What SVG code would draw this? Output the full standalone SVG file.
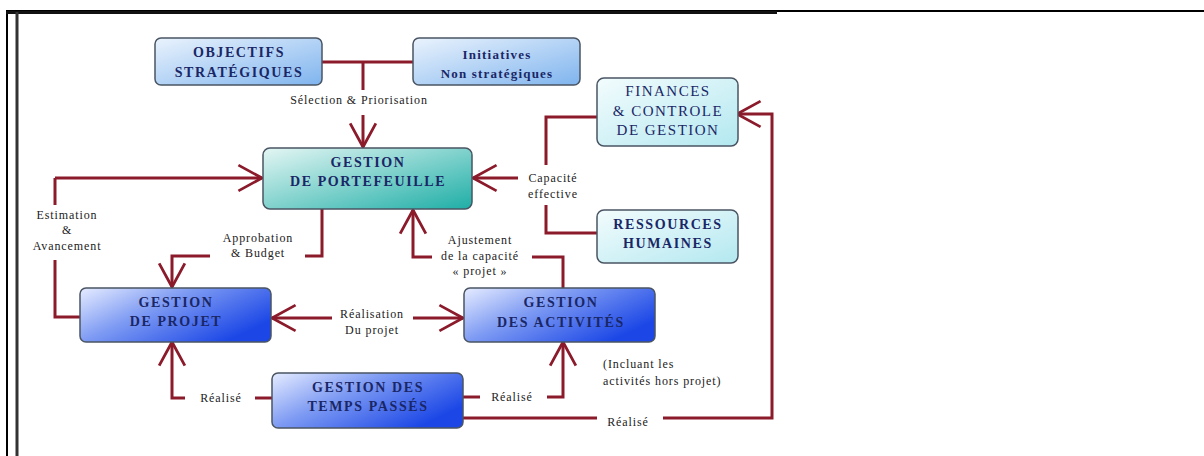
<svg xmlns="http://www.w3.org/2000/svg" width="1204" height="456" viewBox="0 0 1204 456">
<style>
.n{stroke:#4a5563;stroke-width:1.5}
.t{font-family:"Liberation Serif",serif;font-weight:bold;font-size:14px;fill:#1a2766;text-anchor:middle;letter-spacing:1.6px}
.tr{font-family:"Liberation Serif",serif;font-size:15px;fill:#1a2766;text-anchor:middle;letter-spacing:1.5px}
.l{font-family:"Liberation Serif",serif;font-size:12px;fill:#222;text-anchor:middle;letter-spacing:0.9px}
.c{fill:none;stroke:#8b1a2b;stroke-width:3}
.a{fill:none;stroke:#8b1a2b;stroke-width:3;marker-end:url(#arr)}
</style>
<defs>
<linearGradient id="gBlueL" x1="0" y1="0" x2="1" y2="1"><stop offset="0" stop-color="#eaf3fd"/><stop offset="1" stop-color="#7fb4ee"/></linearGradient>
<linearGradient id="gTeal" x1="0" y1="0" x2="1" y2="1"><stop offset="0" stop-color="#e4f6f4"/><stop offset="1" stop-color="#1eaea6"/></linearGradient>
<linearGradient id="gCyan" x1="0" y1="0" x2="1" y2="1"><stop offset="0" stop-color="#f3fcfd"/><stop offset="1" stop-color="#b3e8f0"/></linearGradient>
<linearGradient id="gBlue" x1="0" y1="0" x2="1" y2="0.6"><stop offset="0" stop-color="#e6ecff"/><stop offset="0.45" stop-color="#7d9af3"/><stop offset="1" stop-color="#1c47e6"/></linearGradient>
<marker id="arr" markerUnits="userSpaceOnUse" markerWidth="30" markerHeight="30" viewBox="-24 -14 26 28" refX="0" refY="0" orient="auto"><path d="M-22,-12 L0,0 L-22,12" fill="none" stroke="#8b1a2b" stroke-width="2.6"/></marker>
</defs>
<rect width="1204" height="456" fill="#fff"/>
<g id="frame">
<line x1="6" y1="11" x2="1204" y2="11" stroke="#000" stroke-width="2"/>
<line x1="7" y1="10" x2="7" y2="456" stroke="#000" stroke-width="2"/>
<line x1="6" y1="12.5" x2="777" y2="12.5" stroke="#111" stroke-width="3"/>
<line x1="17" y1="12" x2="17" y2="456" stroke="#333" stroke-width="3"/>
</g>
<g id="connectors">
<path class="c" d="M322,62 H413 M363,62 V90"/>
<path class="a" d="M363,115 V147"/>
<path class="c" d="M597,117 H546 V165 M546,205 V233 H597"/>
<path class="a" d="M518,178 H473"/>
<path class="c" d="M80,317 H55 V260 M55,205 V178"/>
<path class="a" d="M55,178 H262"/>
<path class="c" d="M322,209 V256 H305"/>
<path class="a" d="M210,256 H172 V287"/>
<path class="c" d="M563,288 V257 H532"/>
<path class="a" d="M432,257 H413 V210"/>
<path class="a" d="M332,318 H272"/>
<path class="a" d="M413,318 H463"/>
<path class="c" d="M272,398 H255"/>
<path class="a" d="M185,398 H172 V342"/>
<path class="c" d="M463,397 H480"/>
<path class="a" d="M547,397 H563 V342"/>
<path class="c" d="M463,418 H597"/>
<path class="a" d="M663,418 H772 V114 H737"/>
<text class="l" x="359" y="104">Sélection &amp; Priorisation</text>
<text class="l" x="553" y="182">Capacité</text>
<text class="l" x="553" y="198">effective</text>
<text class="l" x="67" y="219">Estimation</text>
<text class="l" x="67" y="234">&amp;</text>
<text class="l" x="67" y="250">Avancement</text>
<text class="l" x="258" y="242">Approbation</text>
<text class="l" x="258" y="257">&amp; Budget</text>
<text class="l" x="480" y="244">Ajustement</text>
<text class="l" x="480" y="260">de la capacité</text>
<text class="l" x="480" y="275">« projet »</text>
<text class="l" x="372" y="318">Réalisation</text>
<text class="l" x="372" y="334">Du projet</text>
<text class="l" x="221" y="402">Réalisé</text>
<text class="l" x="512" y="401">Réalisé</text>
<text class="l" x="628" y="426">Réalisé</text>
<text class="l" x="603" y="368" style="text-anchor:start">(Incluant les</text>
<text class="l" x="603" y="385" style="text-anchor:start">activités hors projet)</text>
</g>
<g id="objectifs">
<rect class="n" x="155" y="38" width="167" height="47" rx="6" fill="url(#gBlueL)"/>
<text class="t" x="239" y="57">OBJECTIFS</text>
<text class="t" x="239" y="77">STRATÉGIQUES</text>
</g>
<g id="initiatives">
<rect class="n" x="413" y="38" width="167" height="47" rx="6" fill="url(#gBlueL)"/>
<text class="t" x="497" y="59" style="font-size:13px;letter-spacing:1.2px">Initiatives</text>
<text class="t" x="497" y="78" style="font-size:13px;letter-spacing:1.2px">Non stratégiques</text>
</g>
<g id="portefeuille">
<rect class="n" x="263" y="148" width="209" height="61" rx="7" fill="url(#gTeal)"/>
<text class="t" x="368" y="167">GESTION</text>
<text class="t" x="368" y="186">DE PORTEFEUILLE</text>
</g>
<g id="finances">
<rect class="n" x="597" y="78" width="141" height="68" rx="7" fill="url(#gCyan)"/>
<text class="tr" x="668" y="96">FINANCES</text>
<text class="tr" x="668" y="116">&amp; CONTROLE</text>
<text class="tr" x="668" y="135">DE GESTION</text>
</g>
<g id="ressources">
<rect class="n" x="597" y="210" width="141" height="53" rx="7" fill="url(#gCyan)"/>
<text class="t" x="668" y="229">RESSOURCES</text>
<text class="t" x="668" y="248">HUMAINES</text>
</g>
<g id="projet">
<rect class="n" x="80" y="288" width="191" height="54" rx="6" fill="url(#gBlue)"/>
<text class="t" x="176" y="307">GESTION</text>
<text class="t" x="176" y="326">DE PROJET</text>
</g>
<g id="activites">
<rect class="n" x="464" y="288" width="191" height="54" rx="6" fill="url(#gBlue)"/>
<text class="t" x="561" y="307">GESTION</text>
<text class="t" x="561" y="327">DES ACTIVITÉS</text>
</g>
<g id="temps">
<rect class="n" x="272" y="373" width="191" height="55" rx="6" fill="url(#gBlue)"/>
<text class="t" x="368" y="392">GESTION DES</text>
<text class="t" x="368" y="411">TEMPS PASSÉS</text>
</g>
</svg>
